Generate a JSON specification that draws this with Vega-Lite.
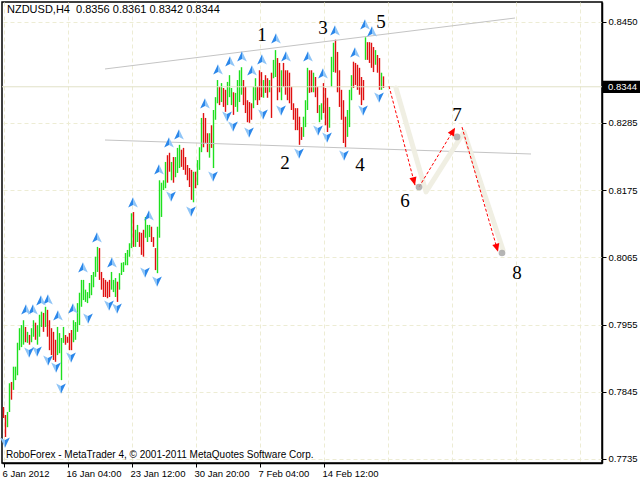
{
"$schema": "https://vega.github.io/schema/vega-lite/v6.json",
"autosize": {"type": "none"},
"width": 600, "height": 461,
"padding": {"left": 2, "top": 2, "right": 38, "bottom": 17},
"background": "white",
"config": {
  "view": {"stroke": "black", "strokeWidth": 1.5},
  "axis": {"labelFont": "Liberation Sans", "labelFontSize": 9.5, "labelColor": "black", "labelOverlap": false, "labelFlush": false}
},
"datasets": {
"bars": [
{"bar":0,"high":0.7820,"low":0.7802,"dir":"down"},
{"bar":1,"high":0.7807,"low":0.7771,"dir":"down"},
{"bar":2,"high":0.7812,"low":0.7787,"dir":"up"},
{"bar":3,"high":0.7859,"low":0.7812,"dir":"up"},
{"bar":4,"high":0.7861,"low":0.7832,"dir":"down"},
{"bar":5,"high":0.7886,"low":0.7848,"dir":"up"},
{"bar":6,"high":0.7886,"low":0.7864,"dir":"up"},
{"bar":7,"high":0.7925,"low":0.7872,"dir":"up"},
{"bar":8,"high":0.7949,"low":0.7913,"dir":"up"},
{"bar":9,"high":0.7954,"low":0.7918,"dir":"up"},
{"bar":10,"high":0.7962,"low":0.7922,"dir":"up"},
{"bar":11,"high":0.7951,"low":0.7926,"dir":"down"},
{"bar":12,"high":0.7943,"low":0.7925,"dir":"up"},
{"bar":13,"high":0.7938,"low":0.7922,"dir":"down"},
{"bar":14,"high":0.7949,"low":0.7926,"dir":"up"},
{"bar":15,"high":0.7962,"low":0.7935,"dir":"up"},
{"bar":16,"high":0.7958,"low":0.7930,"dir":"down"},
{"bar":17,"high":0.7954,"low":0.7922,"dir":"up"},
{"bar":18,"high":0.7971,"low":0.7935,"dir":"up"},
{"bar":19,"high":0.7976,"low":0.7951,"dir":"up"},
{"bar":20,"high":0.7974,"low":0.7943,"dir":"down"},
{"bar":21,"high":0.7984,"low":0.7951,"dir":"up"},
{"bar":22,"high":0.7979,"low":0.7935,"dir":"down"},
{"bar":23,"high":0.7962,"low":0.7913,"dir":"down"},
{"bar":24,"high":0.7949,"low":0.7905,"dir":"down"},
{"bar":25,"high":0.7943,"low":0.7897,"dir":"down"},
{"bar":26,"high":0.7930,"low":0.7894,"dir":"down"},
{"bar":27,"high":0.7951,"low":0.7905,"dir":"up"},
{"bar":28,"high":0.7941,"low":0.7908,"dir":"up"},
{"bar":29,"high":0.7933,"low":0.7864,"dir":"up"},
{"bar":30,"high":0.7951,"low":0.7925,"dir":"up"},
{"bar":31,"high":0.7938,"low":0.7922,"dir":"down"},
{"bar":32,"high":0.7935,"low":0.7925,"dir":"down"},
{"bar":33,"high":0.7941,"low":0.7913,"dir":"down"},
{"bar":34,"high":0.7946,"low":0.7913,"dir":"down"},
{"bar":35,"high":0.7962,"low":0.7926,"dir":"up"},
{"bar":36,"high":0.7959,"low":0.7930,"dir":"up"},
{"bar":37,"high":0.7990,"low":0.7943,"dir":"up"},
{"bar":38,"high":0.8007,"low":0.7954,"dir":"up"},
{"bar":39,"high":0.8028,"low":0.7984,"dir":"up"},
{"bar":40,"high":0.8028,"low":0.7995,"dir":"up"},
{"bar":41,"high":0.8012,"low":0.7992,"dir":"up"},
{"bar":42,"high":0.8008,"low":0.7990,"dir":"up"},
{"bar":43,"high":0.8023,"low":0.7998,"dir":"up"},
{"bar":44,"high":0.8036,"low":0.8003,"dir":"up"},
{"bar":45,"high":0.8041,"low":0.8016,"dir":"up"},
{"bar":46,"high":0.8066,"low":0.8033,"dir":"up"},
{"bar":47,"high":0.8082,"low":0.8041,"dir":"up"},
{"bar":48,"high":0.8080,"low":0.8028,"dir":"down"},
{"bar":49,"high":0.8041,"low":0.8012,"dir":"down"},
{"bar":50,"high":0.8031,"low":0.8000,"dir":"down"},
{"bar":51,"high":0.8028,"low":0.8000,"dir":"down"},
{"bar":52,"high":0.8025,"low":0.7998,"dir":"down"},
{"bar":53,"high":0.8028,"low":0.8000,"dir":"down"},
{"bar":54,"high":0.8041,"low":0.8012,"dir":"up"},
{"bar":55,"high":0.8028,"low":0.8008,"dir":"up"},
{"bar":56,"high":0.8031,"low":0.8000,"dir":"up"},
{"bar":57,"high":0.8025,"low":0.7992,"dir":"down"},
{"bar":58,"high":0.8039,"low":0.8012,"dir":"up"},
{"bar":59,"high":0.8056,"low":0.8036,"dir":"up"},
{"bar":60,"high":0.8057,"low":0.8041,"dir":"up"},
{"bar":61,"high":0.8072,"low":0.8052,"dir":"up"},
{"bar":62,"high":0.8077,"low":0.8052,"dir":"up"},
{"bar":63,"high":0.8088,"low":0.8066,"dir":"up"},
{"bar":64,"high":0.8137,"low":0.8080,"dir":"up"},
{"bar":65,"high":0.8139,"low":0.8082,"dir":"down"},
{"bar":66,"high":0.8110,"low":0.8082,"dir":"up"},
{"bar":67,"high":0.8118,"low":0.8090,"dir":"up"},
{"bar":68,"high":0.8106,"low":0.8082,"dir":"down"},
{"bar":69,"high":0.8105,"low":0.8069,"dir":"down"},
{"bar":70,"high":0.8110,"low":0.8066,"dir":"down"},
{"bar":71,"high":0.8131,"low":0.8097,"dir":"up"},
{"bar":72,"high":0.8118,"low":0.8090,"dir":"up"},
{"bar":73,"high":0.8118,"low":0.8098,"dir":"up"},
{"bar":74,"high":0.8115,"low":0.8090,"dir":"down"},
{"bar":75,"high":0.8098,"low":0.8082,"dir":"down"},
{"bar":76,"high":0.8080,"low":0.8044,"dir":"down"},
{"bar":77,"high":0.8115,"low":0.8039,"dir":"up"},
{"bar":78,"high":0.8191,"low":0.8097,"dir":"up"},
{"bar":79,"high":0.8187,"low":0.8131,"dir":"up"},
{"bar":80,"high":0.8191,"low":0.8175,"dir":"up"},
{"bar":81,"high":0.8221,"low":0.8178,"dir":"up"},
{"bar":82,"high":0.8232,"low":0.8187,"dir":"down"},
{"bar":83,"high":0.8236,"low":0.8205,"dir":"down"},
{"bar":84,"high":0.8221,"low":0.8191,"dir":"up"},
{"bar":85,"high":0.8229,"low":0.8187,"dir":"down"},
{"bar":86,"high":0.8229,"low":0.8196,"dir":"up"},
{"bar":87,"high":0.8244,"low":0.8203,"dir":"up"},
{"bar":88,"high":0.8249,"low":0.8211,"dir":"up"},
{"bar":89,"high":0.8241,"low":0.8213,"dir":"down"},
{"bar":90,"high":0.8244,"low":0.8208,"dir":"down"},
{"bar":91,"high":0.8229,"low":0.8200,"dir":"down"},
{"bar":92,"high":0.8216,"low":0.8191,"dir":"down"},
{"bar":93,"high":0.8211,"low":0.8180,"dir":"down"},
{"bar":94,"high":0.8208,"low":0.8159,"dir":"down"},
{"bar":95,"high":0.8205,"low":0.8155,"dir":"up"},
{"bar":96,"high":0.8205,"low":0.8178,"dir":"down"},
{"bar":97,"high":0.8224,"low":0.8183,"dir":"up"},
{"bar":98,"high":0.8245,"low":0.8208,"dir":"up"},
{"bar":99,"high":0.8293,"low":0.8237,"dir":"up"},
{"bar":100,"high":0.8301,"low":0.8245,"dir":"down"},
{"bar":101,"high":0.8293,"low":0.8252,"dir":"down"},
{"bar":102,"high":0.8268,"low":0.8237,"dir":"down"},
{"bar":103,"high":0.8268,"low":0.8228,"dir":"up"},
{"bar":104,"high":0.8281,"low":0.8244,"dir":"down"},
{"bar":105,"high":0.8306,"low":0.8211,"dir":"up"},
{"bar":106,"high":0.8327,"low":0.8290,"dir":"up"},
{"bar":107,"high":0.8355,"low":0.8317,"dir":"up"},
{"bar":108,"high":0.8344,"low":0.8314,"dir":"down"},
{"bar":109,"high":0.8350,"low":0.8319,"dir":"up"},
{"bar":110,"high":0.8342,"low":0.8311,"dir":"down"},
{"bar":111,"high":0.8339,"low":0.8303,"dir":"down"},
{"bar":112,"high":0.8352,"low":0.8314,"dir":"up"},
{"bar":113,"high":0.8363,"low":0.8327,"dir":"up"},
{"bar":114,"high":0.8342,"low":0.8314,"dir":"up"},
{"bar":115,"high":0.8335,"low":0.8298,"dir":"down"},
{"bar":116,"high":0.8334,"low":0.8311,"dir":"up"},
{"bar":117,"high":0.8355,"low":0.8303,"dir":"up"},
{"bar":118,"high":0.8371,"low":0.8319,"dir":"up"},
{"bar":119,"high":0.8376,"low":0.8331,"dir":"up"},
{"bar":120,"high":0.8355,"low":0.8314,"dir":"down"},
{"bar":121,"high":0.8344,"low":0.8301,"dir":"down"},
{"bar":122,"high":0.8322,"low":0.8286,"dir":"down"},
{"bar":123,"high":0.8319,"low":0.8285,"dir":"down"},
{"bar":124,"high":0.8317,"low":0.8290,"dir":"down"},
{"bar":125,"high":0.8344,"low":0.8309,"dir":"up"},
{"bar":126,"high":0.8358,"low":0.8322,"dir":"up"},
{"bar":127,"high":0.8344,"low":0.8314,"dir":"down"},
{"bar":128,"high":0.8371,"low":0.8322,"dir":"down"},
{"bar":129,"high":0.8368,"low":0.8327,"dir":"down"},
{"bar":130,"high":0.8355,"low":0.8326,"dir":"up"},
{"bar":131,"high":0.8363,"low":0.8334,"dir":"down"},
{"bar":132,"high":0.8358,"low":0.8326,"dir":"down"},
{"bar":133,"high":0.8355,"low":0.8335,"dir":"up"},
{"bar":134,"high":0.8367,"low":0.8293,"dir":"down"},
{"bar":135,"high":0.8388,"low":0.8358,"dir":"up"},
{"bar":136,"high":0.8404,"low":0.8360,"dir":"up"},
{"bar":137,"high":0.8391,"low":0.8322,"dir":"down"},
{"bar":138,"high":0.8383,"low":0.8335,"dir":"down"},
{"bar":139,"high":0.8371,"low":0.8322,"dir":"up"},
{"bar":140,"high":0.8383,"low":0.8344,"dir":"down"},
{"bar":141,"high":0.8371,"low":0.8331,"dir":"down"},
{"bar":142,"high":0.8371,"low":0.8322,"dir":"down"},
{"bar":143,"high":0.8367,"low":0.8317,"dir":"down"},
{"bar":144,"high":0.8344,"low":0.8306,"dir":"down"},
{"bar":145,"high":0.8317,"low":0.8290,"dir":"down"},
{"bar":146,"high":0.8309,"low":0.8273,"dir":"down"},
{"bar":147,"high":0.8309,"low":0.8273,"dir":"down"},
{"bar":148,"high":0.8295,"low":0.8249,"dir":"down"},
{"bar":149,"high":0.8278,"low":0.8257,"dir":"down"},
{"bar":150,"high":0.8295,"low":0.8262,"dir":"up"},
{"bar":151,"high":0.8322,"low":0.8278,"dir":"up"},
{"bar":152,"high":0.8375,"low":0.8306,"dir":"up"},
{"bar":153,"high":0.8371,"low":0.8334,"dir":"down"},
{"bar":154,"high":0.8371,"low":0.8335,"dir":"down"},
{"bar":155,"high":0.8367,"low":0.8335,"dir":"up"},
{"bar":156,"high":0.8360,"low":0.8327,"dir":"down"},
{"bar":157,"high":0.8344,"low":0.8301,"dir":"down"},
{"bar":158,"high":0.8314,"low":0.8286,"dir":"up"},
{"bar":159,"high":0.8317,"low":0.8290,"dir":"up"},
{"bar":160,"high":0.8350,"low":0.8301,"dir":"down"},
{"bar":161,"high":0.8342,"low":0.8281,"dir":"down"},
{"bar":162,"high":0.8326,"low":0.8270,"dir":"down"},
{"bar":163,"high":0.8311,"low":0.8277,"dir":"up"},
{"bar":164,"high":0.8393,"low":0.8344,"dir":"up"},
{"bar":165,"high":0.8416,"low":0.8368,"dir":"up"},
{"bar":166,"high":0.8421,"low":0.8367,"dir":"down"},
{"bar":167,"high":0.8401,"low":0.8335,"dir":"down"},
{"bar":168,"high":0.8371,"low":0.8311,"dir":"down"},
{"bar":169,"high":0.8339,"low":0.8290,"dir":"down"},
{"bar":170,"high":0.8322,"low":0.8252,"dir":"down"},
{"bar":171,"high":0.8295,"low":0.8245,"dir":"down"},
{"bar":172,"high":0.8306,"low":0.8262,"dir":"up"},
{"bar":173,"high":0.8339,"low":0.8278,"dir":"up"},
{"bar":174,"high":0.8363,"low":0.8322,"dir":"up"},
{"bar":175,"high":0.8385,"low":0.8342,"dir":"down"},
{"bar":176,"high":0.8383,"low":0.8347,"dir":"down"},
{"bar":177,"high":0.8380,"low":0.8339,"dir":"down"},
{"bar":178,"high":0.8375,"low":0.8331,"dir":"down"},
{"bar":179,"high":0.8360,"low":0.8314,"dir":"down"},
{"bar":180,"high":0.8355,"low":0.8322,"dir":"down"},
{"bar":181,"high":0.8425,"low":0.8388,"dir":"up"},
{"bar":182,"high":0.8417,"low":0.8388,"dir":"down"},
{"bar":183,"high":0.8417,"low":0.8383,"dir":"down"},
{"bar":184,"high":0.8416,"low":0.8375,"dir":"down"},
{"bar":185,"high":0.8409,"low":0.8368,"dir":"down"},
{"bar":186,"high":0.8404,"low":0.8380,"dir":"up"},
{"bar":187,"high":0.8396,"low":0.8367,"dir":"down"},
{"bar":188,"high":0.8391,"low":0.8339,"dir":"down"},
{"bar":189,"high":0.8367,"low":0.8339,"dir":"up"},
{"bar":190,"high":0.8361,"low":0.8342,"dir":"down"}
],
"upf": [
{"bar":11.25,"price":0.79788},{"bar":14.75,"price":0.79788},{"bar":18.75,"price":0.79935},{"bar":22.25,"price":0.79951},
{"bar":27.25,"price":0.79690},{"bar":34.75,"price":0.79804},{"bar":39.75,"price":0.80475},{"bar":46.75,"price":0.80966},
{"bar":54.25,"price":0.80557},{"bar":64.75,"price":0.81539},{"bar":72.75,"price":0.81326},{"bar":77.75,"price":0.82079},
{"bar":82.75,"price":0.82520},{"bar":87.75,"price":0.82651},{"bar":100.75,"price":0.83158},{"bar":107.25,"price":0.83715},
{"bar":113.25,"price":0.83846},{"bar":119.25,"price":0.83927},{"bar":124.25,"price":0.83698},{"bar":129.25,"price":0.83878},
{"bar":136.25,"price":0.84222},{"bar":141.25,"price":0.83927},{"bar":152.25,"price":0.83927},{"bar":159.75,"price":0.83649},
{"bar":165.75,"price":0.84353},{"bar":175.75,"price":0.83993},{"bar":180.75,"price":0.84451},{"bar":184.25,"price":0.84336}
],
"dnf": [
{"bar":0.75,"price":0.77628},{"bar":12.75,"price":0.79101},{"bar":16.75,"price":0.79117},{"bar":22.25,"price":0.78970},
{"bar":26.25,"price":0.78855},{"bar":28.75,"price":0.78512},{"bar":33.75,"price":0.79019},{"bar":42.25,"price":0.79657},
{"bar":52.75,"price":0.79870},{"bar":56.75,"price":0.79821},{"bar":70.75,"price":0.80410},{"bar":76.75,"price":0.80262},
{"bar":83.75,"price":0.81653},{"bar":93.75,"price":0.81408},{"bar":104.75,"price":0.81980},{"bar":111.75,"price":0.82962},
{"bar":114.75,"price":0.82798},{"bar":122.75,"price":0.82700},{"bar":129.75,"price":0.82995},{"bar":138.75,"price":0.83060},
{"bar":147.75,"price":0.82357},{"bar":157.25,"price":0.82733},{"bar":161.75,"price":0.82618},{"bar":170.25,"price":0.82324},
{"bar":179.75,"price":0.83060},{"bar":187.75,"price":0.83273}
],
"trend": [
{"line":"upper","bar":50.75,"price":0.83731},{"line":"upper","bar":255.75,"price":0.84565},
{"line":"lower","bar":50.75,"price":0.82569},{"line":"lower","bar":263.75,"price":0.82340}
],
"forecast": [
{"seg":"a","bar":192.75,"price":0.8345},{"seg":"a","bar":205.75,"price":0.8183},
{"seg":"b","bar":207.75,"price":0.8180},{"seg":"b","bar":225.75,"price":0.8277},
{"seg":"c","bar":229.25,"price":0.8278},{"seg":"c","bar":247.25,"price":0.8074}
],
"shadow": [
{"bar":196.25,"price":0.8342},{"bar":211.25,"price":0.8172},{"bar":230.25,"price":0.8270},{"bar":249.75,"price":0.8077}
],
"dots": [
{"bar":207.75,"price":0.8180},{"bar":226.75,"price":0.8262},{"bar":249.25,"price":0.8072}
],
"waves": [
{"n":"1","bar":129.25,"price":0.84287},{"n":"2","bar":140.75,"price":0.82193},{"n":"3","bar":159.75,"price":0.84402},
{"n":"4","bar":178.25,"price":0.82160},{"n":"5","bar":188.75,"price":0.84500},{"n":"6","bar":200.75,"price":0.81571},
{"n":"7","bar":226.75,"price":0.82971},{"n":"8","bar":256.75,"price":0.80393}
],
"bid": [{"price":0.8344,"label":"0.8344"}]
},
"layer": [
{
  "data": {"name": "bars"},
  "transform": [{"filter": "datum.dir == 'up'"}],
  "mark": {"type": "bar", "width": 1.4, "fill": "#1ee01e", "stroke": null, "opacity": 1},
  "encoding": {
    "x": {"field": "bar", "type": "quantitative",
      "scale": {"domain": [-0.75, 299.25], "nice": false, "zero": false, "padding": 0},
      "axis": {
        "title": null, "orient": "bottom",
        "values": [0,16,32,48,64,80,96,112,128,144,160,176,192,208,224,240,256,272,288],
        "grid": true, "gridColor": "#edecd4", "gridDash": [4,3], "gridWidth": 1,
        "domainColor": "black", "domainWidth": 1.5,
        "tickColor": "black", "tickSize": 4,
        "tickOpacity": {"condition": {"test": "datum.value % 32 == 0 && datum.value <= 160", "value": 1}, "value": 0},
        "labelExpr": "datum.value == 0 ? '6 Jan 2012' : datum.value == 32 ? '16 Jan 04:00' : datum.value == 64 ? '23 Jan 12:00' : datum.value == 96 ? '30 Jan 20:00' : datum.value == 128 ? '7 Feb 04:00' : datum.value == 160 ? '14 Feb 12:00' : ''",
        "labelAlign": "left", "labelBaseline": "top", "labelPadding": 1, "labelOffset": -1.5,
        "labelOverlap": false, "labelFlush": false
      }
    },
    "y": {"field": "low", "type": "quantitative",
      "scale": {"domain": [0.77284, 0.84827], "nice": false, "zero": false},
      "axis": {
        "title": null, "orient": "right",
        "values": [0.7735,0.779,0.7845,0.79,0.7955,0.801,0.8065,0.812,0.8175,0.823,0.8285,0.8395,0.845],
        "format": ".4f",
        "grid": true, "gridColor": "#edecd4", "gridDash": [4,3], "gridWidth": 1,
        "domainColor": "black", "domainWidth": 1.5,
        "tickColor": "black", "tickSize": 4,
        "labelAlign": "left", "labelBaseline": "middle", "labelPadding": 2,
        "labelOverlap": false, "labelFlush": false, "labelSeparation": 0
      }
    },
    "y2": {"field": "high"}
  }
},
{
  "data": {"name": "bars"},
  "transform": [{"filter": "datum.dir == 'down'"}],
  "mark": {"type": "bar", "width": 1.4, "fill": "#e01010", "stroke": null, "opacity": 1},
  "encoding": {
    "x": {"field": "bar", "type": "quantitative"},
    "y": {"field": "low", "type": "quantitative"},
    "y2": {"field": "high"}
  }
},
{
  "data": {"name": "bid"},
  "mark": {"type": "rule", "color": "#e2e2c8", "strokeWidth": 1},
  "encoding": {"y": {"field": "price", "type": "quantitative"}}
},
{
  "data": {"name": "trend"},
  "mark": {"type": "line", "color": "#c4c4c4", "strokeWidth": 1},
  "encoding": {
    "x": {"field": "bar", "type": "quantitative"},
    "y": {"field": "price", "type": "quantitative"},
    "detail": {"field": "line"}
  }
},
{
  "data": {"name": "shadow"},
  "mark": {"type": "line", "color": "#f0efe3", "strokeWidth": 5, "strokeCap": "round", "strokeJoin": "round"},
  "encoding": {
    "x": {"field": "bar", "type": "quantitative"},
    "y": {"field": "price", "type": "quantitative"}
  }
},
{
  "data": {"name": "upf"},
  "mark": {"type": "point", "shape": "M0,-1L-0.85,0.8L0,0.35Z", "filled": true, "fill": "#2b87ea", "strokeWidth": 0, "size": 130, "opacity": 1},
  "encoding": {"x": {"field": "bar", "type": "quantitative"}, "y": {"field": "price", "type": "quantitative"}}
},
{
  "data": {"name": "upf"},
  "mark": {"type": "point", "shape": "M0,-1L0.85,0.8L0,0.35Z", "filled": true, "fill": "#8fc5f7", "strokeWidth": 0, "size": 130, "opacity": 1},
  "encoding": {"x": {"field": "bar", "type": "quantitative"}, "y": {"field": "price", "type": "quantitative"}}
},
{
  "data": {"name": "dnf"},
  "mark": {"type": "point", "shape": "M0,1L-0.85,-0.8L0,-0.35Z", "filled": true, "fill": "#8fc5f7", "strokeWidth": 0, "size": 130, "opacity": 1},
  "encoding": {"x": {"field": "bar", "type": "quantitative"}, "y": {"field": "price", "type": "quantitative"}}
},
{
  "data": {"name": "dnf"},
  "mark": {"type": "point", "shape": "M0,1L0.85,-0.8L0,-0.35Z", "filled": true, "fill": "#2b87ea", "strokeWidth": 0, "size": 130, "opacity": 1},
  "encoding": {"x": {"field": "bar", "type": "quantitative"}, "y": {"field": "price", "type": "quantitative"}}
},
{
  "data": {"name": "forecast"},
  "mark": {"type": "line", "color": "#ff0000", "strokeWidth": 1, "strokeDash": [3, 2]},
  "encoding": {
    "x": {"field": "bar", "type": "quantitative"},
    "y": {"field": "price", "type": "quantitative"},
    "detail": {"field": "seg"}
  }
},
{
  "data": {"name": "dots"},
  "mark": {"type": "point", "shape": "circle", "filled": true, "fill": "#a8a8a8", "strokeWidth": 0, "size": 45, "opacity": 0.85},
  "encoding": {"x": {"field": "bar", "type": "quantitative"}, "y": {"field": "price", "type": "quantitative"}}
},
{
  "data": {"name": "forecast"},
  "transform": [{"filter": "datum.seg == 'a' && datum.price < 0.82"}],
  "mark": {"type": "point", "shape": "M0,0L-0.9,2L0.9,2Z", "filled": true, "fill": "#ff0000", "strokeWidth": 0, "size": 64, "angle": 165, "opacity": 1},
  "encoding": {"x": {"field": "bar", "type": "quantitative"}, "y": {"field": "price", "type": "quantitative"}}
},
{
  "data": {"name": "forecast"},
  "transform": [{"filter": "datum.seg == 'b' && datum.price > 0.82"}],
  "mark": {"type": "point", "shape": "M0,0L-0.9,2L0.9,2Z", "filled": true, "fill": "#ff0000", "strokeWidth": 0, "size": 64, "angle": 31, "opacity": 1},
  "encoding": {"x": {"field": "bar", "type": "quantitative"}, "y": {"field": "price", "type": "quantitative"}}
},
{
  "data": {"name": "forecast"},
  "transform": [{"filter": "datum.seg == 'c' && datum.price < 0.82"}],
  "mark": {"type": "point", "shape": "M0,0L-0.9,2L0.9,2Z", "filled": true, "fill": "#ff0000", "strokeWidth": 0, "size": 64, "angle": 164, "opacity": 1},
  "encoding": {"x": {"field": "bar", "type": "quantitative"}, "y": {"field": "price", "type": "quantitative"}}
},
{
  "data": {"name": "waves"},
  "mark": {"type": "text", "font": "Liberation Serif", "fontSize": 19, "color": "black", "align": "center", "baseline": "middle"},
  "encoding": {
    "x": {"field": "bar", "type": "quantitative"},
    "y": {"field": "price", "type": "quantitative"},
    "text": {"field": "n"}
  }
},
{
  "data": {"values": [{"t": "NZDUSD,H4\u00a0 0.8356 0.8361 0.8342 0.8344"}]},
  "mark": {"type": "text", "font": "Liberation Sans", "fontSize": 11, "color": "black", "align": "left", "baseline": "middle"},
  "encoding": {
    "x": {"datum": 1.75, "type": "quantitative"},
    "y": {"datum": 0.84696, "type": "quantitative"},
    "text": {"field": "t"}
  }
},
{
  "data": {"values": [{"t": "RoboForex - MetaTrader 4, © 2001-2011 MetaQuotes Software Corp."}]},
  "mark": {"type": "text", "font": "Liberation Sans", "fontSize": 10, "color": "black", "align": "left", "baseline": "middle"},
  "encoding": {
    "x": {"datum": 1.25, "type": "quantitative"},
    "y": {"datum": 0.77415, "type": "quantitative"},
    "text": {"field": "t"}
  }
},
{
  "data": {"name": "bid"},
  "mark": {"type": "rect", "color": "black", "clip": false},
  "encoding": {
    "x": {"datum": 299.75, "type": "quantitative"},
    "x2": {"datum": 318.75},
    "y": {"datum": 0.8354, "type": "quantitative"},
    "y2": {"datum": 0.8334}
  }
},
{
  "data": {"name": "bid"},
  "mark": {"type": "text", "font": "Liberation Sans", "fontSize": 9.5, "color": "white", "align": "left", "baseline": "middle", "clip": false},
  "encoding": {
    "x": {"datum": 302.25, "type": "quantitative"},
    "y": {"field": "price", "type": "quantitative"},
    "text": {"field": "label"}
  }
}
]
}
